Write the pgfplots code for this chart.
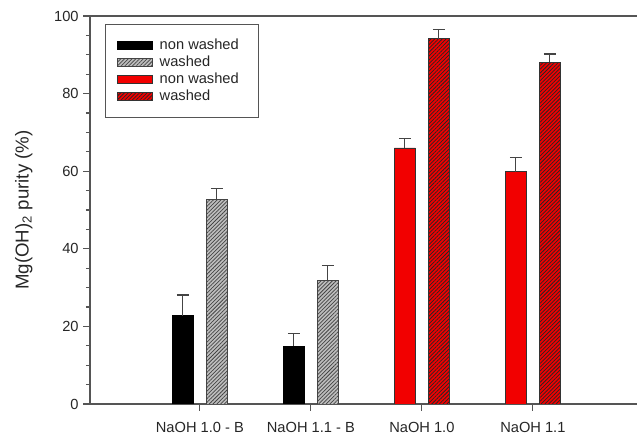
\documentclass[border=0pt]{standalone}
\usepackage{fontspec}
\setmainfont{Liberation Sans}
\usepackage{pgfplots}
\pgfplotsset{compat=1.18}
\usetikzlibrary{patterns.meta}
\definecolor{axisgray}{HTML}{555555}
\definecolor{lightgray}{HTML}{BDBDBD}
\definecolor{hatchgray}{HTML}{444444}
\definecolor{myred}{HTML}{F20000}
\begin{document}
\begin{tikzpicture}
\clip (-67.5pt,-24pt) rectangle (410.25pt,303pt);
\begin{axis}[
  at={(0,0)}, anchor=south west,
  x=83.25pt, y=2.91pt,
  xmin=-0.99, xmax=4.1, ymin=0, ymax=100,
  axis line style={draw=axisgray, line width=0.9pt},
  xtick={0,1,2,3},
  xticklabels={NaOH 1.0 - B, NaOH 1.1 - B, NaOH 1.0, NaOH 1.1},
  ytick={0,20,40,60,80,100},
  minor y tick num=3,
  tick align=outside,
  xtick pos=bottom, ytick pos=left,
  major tick length=5pt, minor tick length=3pt,
  tick style={draw=axisgray, line width=0.8pt},
  /pgf/number format/assume math mode=true,
  ticklabel style={font=\fontsize{11}{13}\selectfont, text=black!85},
  xticklabel style={yshift=-5pt},
  ylabel={Mg(OH)\textsubscript{2} purity (\%)},
  ylabel style={font=\fontsize{14}{16}\selectfont, at={(axis description cs:-0.117,0.5)}, anchor=center, text=black!85},
  ybar, bar width=15.75pt,
  error bars/y dir=plus, error bars/y explicit,
  error bars/error bar style={draw=hatchgray, line width=0.8pt},
  error bars/error mark options={draw=hatchgray, line width=0.8pt, mark size=4.5pt, rotate=90},
  legend style={at={(rel axis cs:0,1)}, xshift=11.25pt, yshift=-6pt, anchor=north west,
    draw=axisgray, line width=0.6pt, inner xsep=8.5pt, inner ysep=9pt,
    font=\fontsize{11}{12}\selectfont, row sep=-0.75pt, text=black!85},
  legend cell align=left,
  legend image code/.code={\draw[#1] (0pt,-3pt) rectangle (26.25pt,3pt);},
]
\addplot[fill=black, draw=black, line width=0.5pt, bar shift=-12.75pt]
  coordinates {(0,22.8) +- (0,5.3) (1,14.9) +- (0,3.3)};
\addlegendentry{\hspace*{3.5pt}non washed\hspace*{4pt}}
\addplot[fill=lightgray, draw=hatchgray, line width=0.5pt, bar shift=12.75pt,
  postaction={pattern={Lines[angle=45,distance=2pt,line width=0.55pt]}, pattern color=hatchgray}]
  coordinates {(0,52.8) +- (0,2.8) (1,31.8) +- (0,3.9)};
\addlegendentry{\hspace*{3.5pt}washed}
\addplot[fill=myred, draw=black!80, line width=0.5pt, bar shift=-12.75pt]
  coordinates {(2,66.0) +- (0,2.4) (3,59.9) +- (0,3.7)};
\addlegendentry{\hspace*{3.5pt}non washed\hspace*{4pt}}
\addplot[fill=myred, draw=black!80, line width=0.5pt, bar shift=12.75pt,
  postaction={pattern={Lines[angle=45,distance=2pt,line width=0.55pt]}, pattern color=black!85}]
  coordinates {(2,94.2) +- (0,2.2) (3,88.1) +- (0,2.1)};
\addlegendentry{\hspace*{3.5pt}washed}
\end{axis}
\end{tikzpicture}
\end{document}
